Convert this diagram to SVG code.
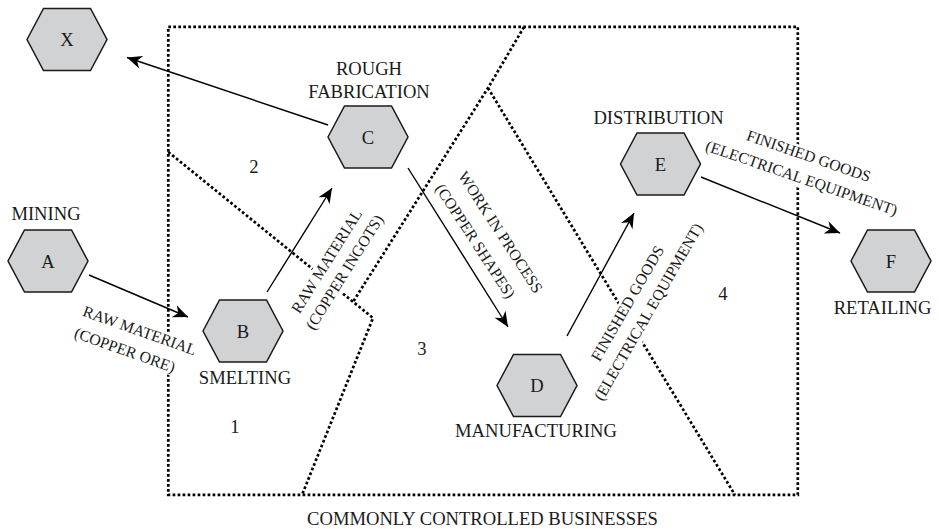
<svg xmlns="http://www.w3.org/2000/svg" width="939" height="529" viewBox="0 0 939 529">
  <style>
    .hex { fill: #d1d2d4; stroke: #1a1a1a; stroke-width: 1.5; }
    .lbl { font-family: "Liberation Serif", "Times New Roman", serif; font-size: 18.6px; fill: #1a1a1a; text-anchor: middle; }
    .small { font-family: "Liberation Serif", "Times New Roman", serif; font-size: 15.8px; fill: #1a1a1a; text-anchor: middle; }
    .bg { fill: #fff; stroke: none; }
    .dot { fill: none; stroke: #000; stroke-width: 2.7; stroke-dasharray: 2.7 2.3; }
    .flow { fill: none; stroke: #000; stroke-width: 1.4; marker-end: url(#arrow); }
  </style>
  <defs>
    <polygon id="hexShape" class="hex" points="-40,0 -23.5,-31 23.5,-31 40,0 23.5,31 -23.5,31"/>
    <marker id="arrow" markerUnits="userSpaceOnUse" markerWidth="20" markerHeight="16" viewBox="-16 -8 18 16" refX="0" refY="0" orient="auto">
      <path d="M0,0 L-15,-6.5 L-10.5,0 L-15,6.5 Z" fill="#000"/>
    </marker>
  </defs>
  <rect width="939" height="529" fill="#fff"/>

  <!-- business boundaries -->
  <g id="boundaries">
    <rect class="dot" x="168.3" y="26.8" width="629.5" height="468"/>
    <polyline class="dot" points="168.3,152 373,318 302,495"/>
    <polyline class="dot" points="524,27 488,88 353,302"/>
    <line class="dot" x1="488" y1="88" x2="735" y2="495"/>
  </g>

  <!-- region numbers -->
  <g id="regions">
    <text class="lbl" x="254" y="173">2</text>
    <text class="lbl" x="235" y="433">1</text>
    <text class="lbl" x="422" y="355">3</text>
    <text class="lbl" x="723" y="300">4</text>
  </g>

  <!-- flow labels, each on a white box that breaks the boundary lines -->
  <g id="flow-labels">
    <g transform="translate(138,335.5) rotate(19.5)">
      <rect class="bg" x="-68" y="-13" width="130" height="40"/>
      <text class="small">RAW MATERIAL</text>
      <text class="small" x="-7.6" y="23.4">(COPPER ORE)</text>
    </g>
    <g transform="translate(331,264) rotate(-58)">
      <rect class="bg" x="-68" y="-13" width="136" height="38"/>
      <text class="small">RAW MATERIAL</text>
      <text class="small" x="0.2" y="21.1">(COPPER INGOTS)</text>
    </g>
    <g transform="translate(496,235) rotate(57)">
      <rect class="bg" x="-74" y="-13" width="144" height="43"/>
      <text class="small">WORK IN PROCESS</text>
      <text class="small" x="-6.1" y="25.9">(COPPER SHAPES)</text>
    </g>
    <g transform="translate(632,306) rotate(-60)">
      <rect class="bg" x="-100" y="-13" width="206" height="40"/>
      <text class="small">FINISHED GOODS</text>
      <text class="small" x="3.1" y="22.4">(ELECTRICAL EQUIPMENT)</text>
    </g>
    <g transform="translate(807,161) rotate(19)">
      <rect class="bg" x="-103" y="-13" width="208" height="41"/>
      <text class="small">FINISHED GOODS</text>
      <text class="small" x="0.5" y="23.1">(ELECTRICAL EQUIPMENT)</text>
    </g>
  </g>

  <!-- flows between stages -->
  <g id="connectors">
    <line class="flow" x1="328" y1="125" x2="127" y2="57.5"/>
    <line class="flow" x1="89" y1="275" x2="188" y2="317"/>
    <line class="flow" x1="267" y1="292" x2="332" y2="188"/>
    <line class="flow" x1="408" y1="168" x2="508" y2="327"/>
    <line class="flow" x1="567" y1="336" x2="634" y2="213"/>
    <line class="flow" x1="701" y1="177" x2="840" y2="233"/>
  </g>

  <!-- stages -->
  <g id="node-X">
    <use href="#hexShape" x="67" y="39.5"/>
    <text class="lbl" x="67" y="46">X</text>
  </g>
  <g id="node-A">
    <use href="#hexShape" x="48" y="261"/>
    <text class="lbl" x="48" y="267.5">A</text>
    <text class="lbl" x="46" y="220">MINING</text>
  </g>
  <g id="node-B">
    <use href="#hexShape" x="243" y="331"/>
    <text class="lbl" x="243" y="337.5">B</text>
    <text class="lbl" x="245" y="384">SMELTING</text>
  </g>
  <g id="node-C">
    <use href="#hexShape" x="368" y="137"/>
    <text class="lbl" x="368" y="143.5">C</text>
    <text class="lbl" x="369" y="75">ROUGH</text>
    <text class="lbl" x="369" y="98">FABRICATION</text>
  </g>
  <g id="node-D">
    <use href="#hexShape" x="537" y="385.5"/>
    <text class="lbl" x="537" y="392">D</text>
    <text class="lbl" x="536" y="437">MANUFACTURING</text>
  </g>
  <g id="node-E">
    <use href="#hexShape" x="660.5" y="164"/>
    <text class="lbl" x="660.5" y="170.5">E</text>
    <text class="lbl" x="658.5" y="124">DISTRIBUTION</text>
  </g>
  <g id="node-F">
    <use href="#hexShape" x="891" y="261"/>
    <text class="lbl" x="891" y="267.5">F</text>
    <text class="lbl" x="882.5" y="314">RETAILING</text>
  </g>

  <text class="lbl" x="482.5" y="525">COMMONLY CONTROLLED BUSINESSES</text>
</svg>
